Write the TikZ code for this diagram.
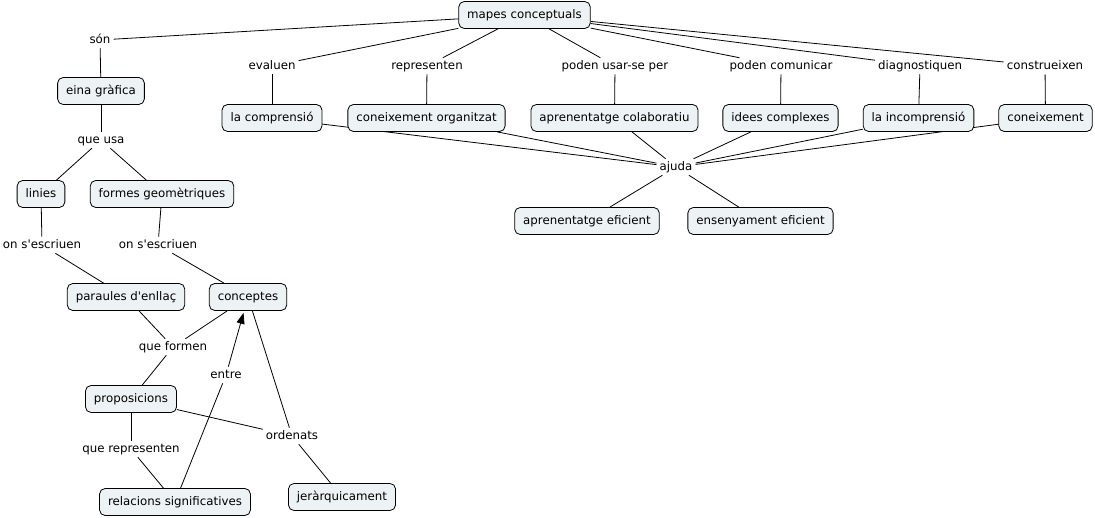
\documentclass[tikz,border=0pt]{standalone}
\usepackage{fontspec}
\setmainfont{DejaVu Sans}
\usetikzlibrary{arrows.meta,backgrounds}
\definecolor{boxfill}{HTML}{EDF3F5}
\begin{document}
\begin{tikzpicture}[x=1pt,y=-1pt,
  every node/.style={font=\fontsize{11.8}{13}\selectfont, text height=1.55ex, text depth=.3ex},
  cbox/.style={draw, line width=0.8pt, rounded corners=5.5pt, fill=boxfill, inner xsep=8.5pt, minimum height=27pt},
  lab/.style={inner xsep=3pt, inner ysep=3pt},
  link/.style={line width=0.8pt, black}]
\useasboundingbox (0,0) rectangle (1095,518);
% concepts
\node[cbox] (mapes) at (524.5,15) {mapes conceptuals};
\node[cbox] (eina) at (101,91) {eina gràfica};
\node[cbox] (linies) at (41,194) {linies};
\node[cbox] (formes) at (162,194) {formes geomètriques};
\node[cbox] (paraules) at (126,297) {paraules d\textquotesingle enllaç};
\node[cbox] (conceptes) at (248,297) {conceptes};
\node[cbox] (proposicions) at (131,399) {proposicions};
\node[cbox] (relacions) at (175,502) {relacions significatives};
\node[cbox] (jerar) at (342,497) {jeràrquicament};
\node[cbox] (comprensio) at (272,118) {la comprensió};
\node[cbox] (conorg) at (426.5,118) {coneixement organitzat};
\node[cbox] (aprcol) at (614.5,118) {aprenentatge colaboratiu};
\node[cbox] (idees) at (780.5,118) {idees complexes};
\node[cbox] (incompr) at (918.5,118) {la incomprensió};
\node[cbox] (coneix) at (1045.5,118) {coneixement};
\node[cbox] (aprefic) at (587,221) {aprenentatge eficient};
\node[cbox] (ensefic) at (760.5,221) {ensenyament eficient};
% linking phrases
\node[lab] (son) at (100,40) {són};
\node[lab] (evaluen) at (272,66) {evaluen};
\node[lab] (representen) at (427,66) {representen};
\node[lab] (usar) at (615,66) {poden usar-se per};
\node[lab] (comunicar) at (781,66) {poden comunicar};
\node[lab] (diagnostiquen) at (920,66) {diagnostiquen};
\node[lab] (construeixen) at (1045,66) {construeixen};
\node[lab] (ajuda) at (676,167) {ajuda};
\node[lab] (queusa) at (101,140) {que usa};
\node[lab] (escriuenA) at (42,245) {on s\textquotesingle escriuen};
\node[lab] (escriuenB) at (158,245) {on s\textquotesingle escriuen};
\node[lab] (queformen) at (173,347) {que formen};
\node[lab] (entre) at (226,375) {entre};
\node[lab] (ordenats) at (292,436) {ordenats};
\node[lab] (querep) at (131,449) {que representen};
% connectors
\begin{scope}[on background layer]
\draw[link] (mapes) -- (son);
\draw[link] (mapes) -- (evaluen);
\draw[link] (mapes) -- (representen);
\draw[link] (mapes) -- (usar);
\draw[link] (mapes) -- (comunicar);
\draw[link] (mapes) -- (diagnostiquen);
\draw[link] (mapes) -- (construeixen);
\draw[link] (evaluen) -- (comprensio);
\draw[link] (representen) -- (conorg);
\draw[link] (usar) -- (aprcol);
\draw[link] (comunicar) -- (idees);
\draw[link] (diagnostiquen) -- (incompr);
\draw[link] (construeixen) -- (coneix);
\draw[link] (comprensio.center) -- (ajuda);
\draw[link] (conorg) -- (ajuda);
\draw[link] (aprcol) -- (ajuda);
\draw[link] (idees) -- (ajuda);
\draw[link] (incompr) -- (ajuda);
\draw[link] (coneix.center) -- (ajuda);
\draw[link] (ajuda) -- (aprefic);
\draw[link] (ajuda) -- (ensefic);
\draw[link] (son) -- (eina);
\draw[link] (eina) -- (queusa);
\draw[link] (queusa) -- (linies);
\draw[link] (queusa) -- (formes);
\draw[link] (linies) -- (escriuenA);
\draw[link] (escriuenA) -- (paraules);
\draw[link] (formes) -- (escriuenB);
\draw[link] (escriuenB) -- (conceptes);
\draw[link] (paraules) -- (queformen);
\draw[link] (conceptes) -- (queformen);
\draw[link] (queformen) -- (proposicions);
\draw[link] (proposicions) -- (querep);
\draw[link] (querep) -- (relacions);
\draw[link] (relacions) -- (entre);
\draw[link,shorten >=2pt,-{Triangle[length=11pt,width=8pt]}] (entre) -- (conceptes);
\draw[link] (conceptes) -- (ordenats);
\draw[link] (proposicions) -- (ordenats);
\draw[link] (ordenats) -- (jerar);
\end{scope}
\end{tikzpicture}
\end{document}
